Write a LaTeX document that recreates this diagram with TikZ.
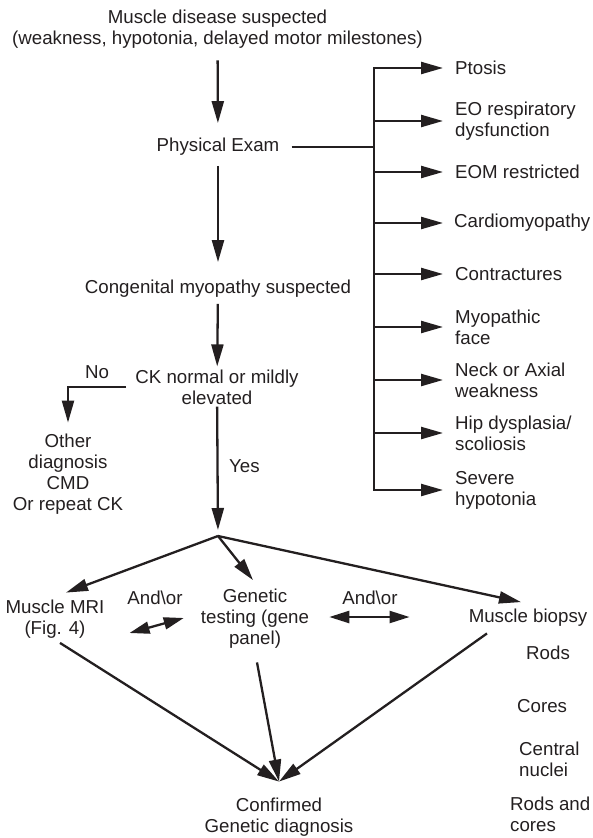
\documentclass[tikz,border=0pt]{standalone}
\usepackage{fontspec}
\setmainfont{Liberation Sans}
\usetikzlibrary{arrows.meta,calc}
\definecolor{ink}{RGB}{35,31,32}
\begin{document}
\begin{tikzpicture}[x=1pt,y=-1pt,
  txt/.style={font=\fontsize{18.7}{21}\selectfont, align=center, inner sep=0pt, text=ink},
  lst/.style={txt, align=left, anchor=west},
  ln/.style={line width=2.3pt, draw=ink},
  arr/.style={ln, -{Triangle[length=22pt,width=12pt]}},
  darr/.style={ln, {Triangle[length=20pt,width=12pt]}-{Triangle[length=20pt,width=12pt]}},
]
\useasboundingbox (0,0) rectangle (592,838);

% main column
\node[txt] (title) at (217.5,29) {Muscle disease suspected\\(weakness, hypotonia, delayed motor milestones)};
\node[txt] (phys) at (218,147) {Physical Exam};
\node[txt] (cong) at (218,289) {Congenital myopathy suspected};
\node[txt] (ck) at (217,387) {CK normal or mildly\\elevated};
\node[txt] (other) at (68,474) {Other\\diagnosis\\CMD\\Or repeat CK};
\node[txt] (no) at (97,372) {No};
\node[txt, anchor=west] (yes) at (229,466) {Yes};
\coordinate (j) at (218,536);

% tests
\node[txt] (mri) at (55,619) {Muscle MRI\\(Fig. 4)};
\node[txt] (gen) at (255,619) {Genetic\\testing (gene\\panel)};
\node[txt] (bio) at (528,618) {Muscle biopsy};
\node[txt] (ao1) at (155,598) {And\textbackslash or};
\node[txt] (ao2) at (370,598) {And\textbackslash or};
\node[txt] (conf) at (279,817) {Confirmed\\Genetic diagnosis};
\coordinate (meet) at ([yshift=16pt]conf.north);

% biopsy findings
\node[lst] (rods) at (526,653) {Rods};
\node[lst] (cores) at (517,706) {Cores};
\node[lst] (cn) at (519,759) {Central\\nuclei};
\node[lst] (rc) at (510,814) {Rods and\\cores};

% physical exam findings
\node[lst] (ptosis) at (455,68) {Ptosis};
\node[lst] (eo) at (455,121) {EO respiratory\\dysfunction};
\node[lst] (eom) at (455,172) {EOM restricted};
\node[lst] (cardio) at (454,223) {Cardiomyopathy};
\node[lst] (contr) at (455,274) {Contractures};
\node[lst] (myo) at (455,327) {Myopathic\\face};
\node[lst] (neck) at (455,380) {Neck or Axial\\weakness};
\node[lst] (hip) at (455,433) {Hip dysplasia/\\scoliosis};
\node[lst] (severe) at (455,490) {Severe\\hypotonia};
\coordinate (bx) at (374,0);

% vertical flow
\draw[arr, shorten <=12pt, shorten >=15pt] (title) -- (phys);
\draw[arr, shorten <=10pt, shorten >=18pt] (phys) -- (cong);
\draw[arr, shorten <=6pt, shorten >=3pt] (cong) -- (ck);
\draw[arr, shorten <=2pt, shorten >=6pt] (ck) -- (j);
\draw[arr, shorten <=9pt, shorten >=11pt] (ck.west) -| (other.north);

% findings bracket
\draw[ln, shorten <=12pt] (phys.east) -- (phys.east -| bx);
\draw[ln, line cap=rect] (bx |- ptosis.west) -- (bx |- severe.west);
\foreach \n in {ptosis,eo,eom,contr,myo,neck,hip,severe}
  \draw[arr, shorten >=12pt] (bx |- \n.west) -- (\n.west);
\draw[arr, shorten >=11pt] (bx |- cardio.west) -- (cardio.west);

% branching to the tests
\draw[arr] (j) -- ([xshift=11pt,yshift=7pt]mri.north);
\draw[arr] (j) -- ([xshift=-2pt,yshift=9pt]gen.north);
\draw[arr] (j) -- ([xshift=-7pt,yshift=7pt]bio.north);
\draw[darr] ([shift={(25pt,-14pt)}]mri.east) -- ([shift={(-17pt,1pt)}]gen.west);
\draw[darr] ([shift={(20pt,2pt)}]gen.east) -- ([shift={(-59pt,1pt)}]bio.west);

% converging on the diagnosis
\draw[arr] ([shift={(5pt,-4.5pt)}]mri.south) -- (meet);
\draw[arr] ([shift={(2pt,-13.5pt)}]gen.south) -- (meet);
\draw[arr] ([shift={(-41pt,-6.5pt)}]bio.south) -- (meet);
\end{tikzpicture}
\end{document}
